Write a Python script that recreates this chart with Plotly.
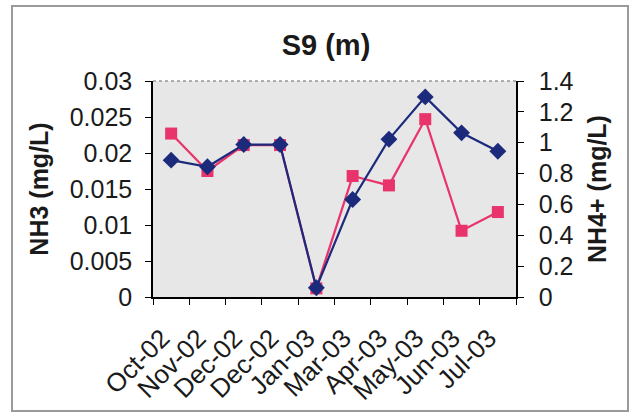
import plotly.graph_objects as go

# Sampling months (December was sampled twice)
months = ["Oct-02", "Nov-02", "Dec-02", "Dec-02", "Jan-03",
          "Mar-03", "Apr-03", "May-03", "Jun-03", "Jul-03"]

# Un-ionised ammonia, left axis (mg/L)
nh3 = [0.0227, 0.0175, 0.0211, 0.0211, 0.0012,
       0.0168, 0.0155, 0.0247, 0.0092, 0.0118]

# Ammonium, right axis (mg/L)
nh4 = [0.887, 0.844, 0.988, 0.988, 0.06,
       0.632, 1.022, 1.297, 1.064, 0.945]

left_ticks = [0, 0.005, 0.01, 0.015, 0.02, 0.025, 0.03]
right_ticks = [0, 0.2, 0.4, 0.6, 0.8, 1, 1.2, 1.4]

FONT = "Liberation Sans, Arial, sans-serif"
PINK = "#e8336b"
NAVY = "#1c2a7c"

idx = list(range(len(months)))
# rotated labels sit slightly left of each category centre
label_pos = [i - 0.25 for i in idx]

fig = go.Figure()
fig.add_trace(go.Scatter(
    x=idx, y=nh3, name="NH3", mode="lines+markers",
    line=dict(color=PINK, width=2.2),
    marker=dict(symbol="square", size=12, color=PINK),
    yaxis="y",
))
fig.add_trace(go.Scatter(
    x=idx, y=nh4, name="NH4+", mode="lines+markers",
    line=dict(color=NAVY, width=2.2),
    marker=dict(symbol="diamond", size=13, color=NAVY),
    yaxis="y2",
))

fig.update_layout(
    width=634, height=417,
    margin=dict(l=153, r=118, t=81, b=120),
    paper_bgcolor="white",
    plot_bgcolor="#e7e7e7",
    showlegend=False,
    font=dict(family=FONT, color="#1a1a1a", size=24),
    title=dict(text="<b>S9 (m)</b>", x=326 / 634, xanchor="center",
               y=1 - 45 / 417, yanchor="middle",
               font=dict(size=29, family=FONT, color="#1a1a1a")),
    xaxis=dict(
        range=[-0.5, len(months) - 0.5],
        tickmode="array", tickvals=label_pos, ticktext=months,
        tickangle=-45, ticks="", showgrid=False, zeroline=False,
        showline=True, linecolor="black", linewidth=1.5,
        tickfont=dict(size=26), ticklabelstandoff=14,
        minor=dict(tickmode="linear", tick0=-0.5, dtick=1,
                   ticks="outside", ticklen=6, tickcolor="black",
                   tickwidth=1.2, showgrid=False),
    ),
    yaxis=dict(
        range=[0, 0.03], tickmode="array", tickvals=left_ticks,
        ticktext=[f"{v:g}" for v in left_ticks],
        ticks="outside", ticklen=6, tickcolor="black", tickwidth=1.2,
        ticklabelstandoff=8,
        showgrid=False, zeroline=False,
        showline=True, linecolor="black", linewidth=1.5,
        tickfont=dict(size=25),
        title=dict(text="<b>NH3 (mg/L)</b>", font=dict(size=25), standoff=14),
    ),
    yaxis2=dict(
        range=[0, 1.4], overlaying="y", side="right",
        tickmode="array", tickvals=right_ticks,
        ticktext=[f"{v:g}" for v in right_ticks],
        ticks="outside", ticklen=6, tickcolor="black", tickwidth=1.2,
        ticklabelstandoff=10,
        showgrid=False, zeroline=False,
        showline=True, linecolor="black", linewidth=1.5,
        tickfont=dict(size=25),
        title=dict(text="<b>NH4+ (mg/L)</b>", font=dict(size=25), standoff=16),
    ),
)

# Top edge of the plot area
fig.add_shape(type="line", xref="paper", yref="paper",
              x0=0, x1=1, y0=1, y1=1,
              line=dict(color="#666666", width=1, dash="dot"))

# Outer chart frame
fig.add_shape(type="rect", xref="paper", yref="paper",
              x0=(12 - 153) / 363, x1=(628 - 153) / 363,
              y0=(297 - 411) / 216, y1=(297 - 6) / 216,
              line=dict(color="#9a9a9a", width=2), layer="below")

fig.write_html("out.html")
